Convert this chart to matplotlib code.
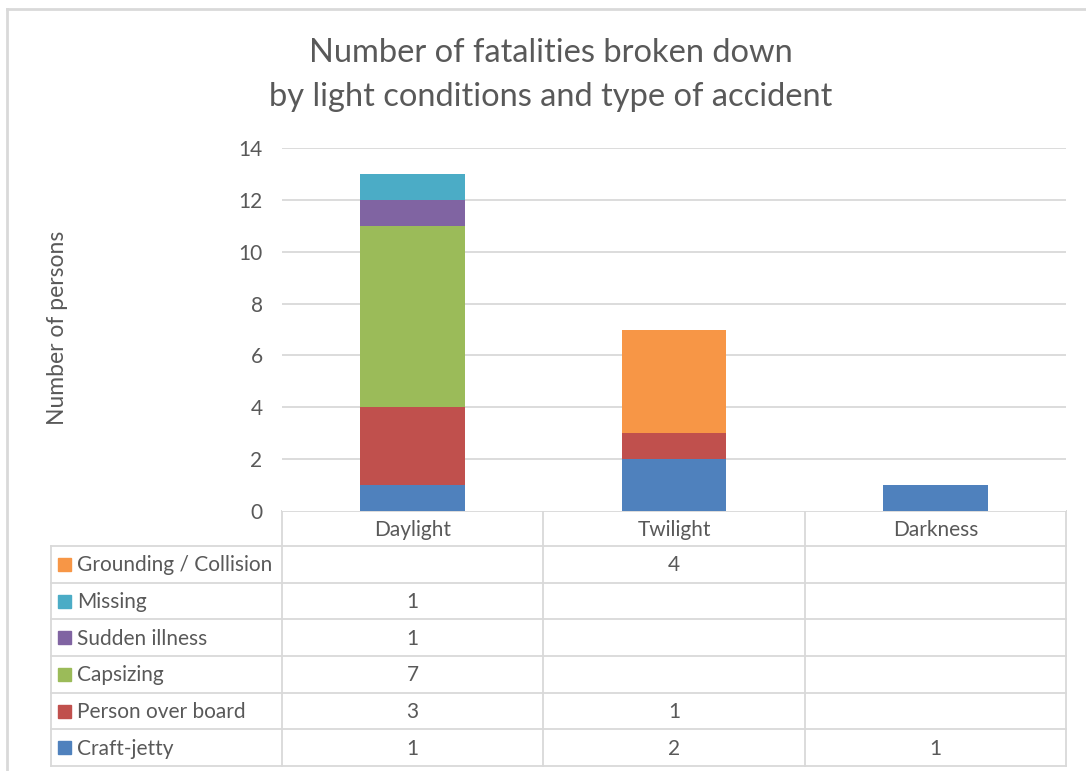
import matplotlib
matplotlib.use("Agg")
import matplotlib.pyplot as plt
from matplotlib.lines import Line2D
from matplotlib.patches import Rectangle
import numpy as np

plt.rcParams['font.family'] = ['Lato', 'DejaVu Sans']

categories = ["Daylight", "Twilight", "Darkness"]
series_names = ["Craft-jetty", "Person over board", "Capsizing",
                "Sudden illness", "Missing", "Grounding / Collision"]
craft_jetty = [1, 2, 1]
person_over_board = [3, 1, 0]
capsizing = [7, 0, 0]
sudden_illness = [1, 0, 0]
missing = [1, 0, 0]
grounding_collision = [0, 4, 0]
series_values = [craft_jetty, person_over_board, capsizing,
                 sudden_illness, missing, grounding_collision]
colors = ["#4F81BD", "#C0504D", "#9BBB59", "#8064A2", "#4BACC6", "#F79646"]
y_ticks = [0, 2, 4, 6, 8, 10, 12, 14]

TXT = "#595959"
GRID = "#D9D9D9"
FS = 15
W, H = 1086, 771
fig = plt.figure(figsize=(W / 100, H / 100), dpi=100)

# plot area (pixel layout)
pl, pr, pt, pb = 282, 1066, 148, 511
ax = fig.add_axes([pl / W, 1 - pb / H, (pr - pl) / W, (pb - pt) / H])
x = np.arange(len(categories))
bottom = np.zeros(len(categories))
for vals, c in zip(series_values, colors):
    ax.bar(x, vals, width=0.4, bottom=bottom, color=c, zorder=3)
    bottom += np.array(vals)
ax.set_xlim(-0.5, len(categories) - 0.5)
ax.set_ylim(0, 14)
ax.set_yticks(y_ticks)
ax.set_yticklabels([str(t) for t in y_ticks], fontsize=FS, color=TXT)
ax.tick_params(axis='y', length=0, pad=14)
ax.set_xticks([])
for s in ax.spines.values():
    s.set_visible(False)
for t in y_ticks[1:]:
    ax.axhline(t, color=GRID, lw=1.3, zorder=1)

# overlay for table & frame in pixel coordinates
ov = fig.add_axes([0, 0, 1, 1], zorder=-1)
ov.set_xlim(0, W)
ov.set_ylim(H, 0)
ov.axis('off')
ov.patch.set_alpha(0)

# chart frame
ov.add_line(Line2D([7, 7], [9, H], color=GRID, lw=2))
ov.add_line(Line2D([7, W], [9, 9], color=GRID, lw=2))

ncat = len(categories)
col_edges = [pl + i * (pr - pl) / ncat for i in range(ncat + 1)]
tab_left = 51
hdr_top, hdr_bot = pb, 546
tab_bot = 766
nrows = len(series_names)
row_h = (tab_bot - hdr_bot) / nrows
lw = 1.3

for xe in col_edges:
    ov.add_line(Line2D([xe, xe], [hdr_top, tab_bot], color=GRID, lw=lw))
ov.add_line(Line2D([pl, pr], [hdr_top, hdr_top], color=GRID, lw=lw))
ov.add_line(Line2D([tab_left, tab_left], [hdr_bot, tab_bot], color=GRID, lw=lw))
for i in range(nrows + 1):
    yy = hdr_bot + i * row_h
    ov.add_line(Line2D([tab_left, pr], [yy, yy], color=GRID, lw=lw))

for i, cat in enumerate(categories):
    cx = (col_edges[i] + col_edges[i + 1]) / 2
    ov.text(cx, (hdr_top + hdr_bot) / 2 + 1, cat, ha='center', va='center',
            fontsize=FS, color=TXT)

for r, idx in enumerate(reversed(range(nrows))):
    cy = hdr_bot + (r + 0.5) * row_h
    ov.add_patch(Rectangle((58, cy - 6.5), 13, 13, color=colors[idx]))
    ov.text(77, cy + 1, series_names[idx], ha='left', va='center',
            fontsize=FS, color=TXT)
    for i, v in enumerate(series_values[idx]):
        if v:
            cx = (col_edges[i] + col_edges[i + 1]) / 2
            ov.text(cx, cy + 1, str(v), ha='center', va='center',
                    fontsize=FS, color=TXT)

fig.text(551 / W, 1 - 75 / H,
         "Number of fatalities broken down\nby light conditions and type of accident",
         ha='center', va='center', fontsize=23.5, color=TXT, linespacing=1.55)
fig.text(57 / W, 1 - 328 / H, "Number of persons", rotation=90,
         ha='center', va='center', fontsize=16.5, color=TXT)

fig.savefig("out.png", dpi=100, facecolor='white')
